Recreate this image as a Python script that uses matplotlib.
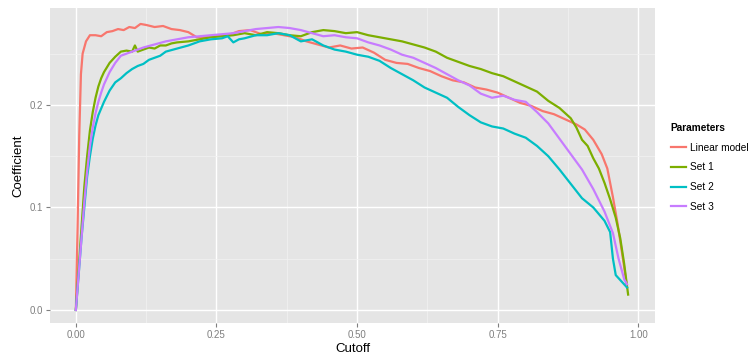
import numpy as np
import matplotlib
matplotlib.use("Agg")
import matplotlib.pyplot as plt

plt.rcParams["font.family"] = ["Liberation Sans", "DejaVu Sans"]

# Linear model
red_x = [0, 0.003, 0.006, 0.009, 0.012, 0.018, 0.025, 0.035, 0.045, 0.055, 0.065, 0.075, 0.085, 0.095,
         0.105, 0.115, 0.125, 0.14, 0.155, 0.17, 0.185, 0.2, 0.215, 0.23, 0.25, 0.27, 0.29, 0.31, 0.33,
         0.35, 0.37, 0.39, 0.41, 0.43, 0.45, 0.47, 0.49, 0.51, 0.53, 0.55, 0.57, 0.59, 0.61, 0.63, 0.65,
         0.67, 0.69, 0.71, 0.73, 0.75, 0.77, 0.79, 0.81, 0.83, 0.85, 0.87, 0.89, 0.905, 0.92, 0.935,
         0.945, 0.955, 0.963, 0.97, 0.976, 0.98]
red_y = [0, 0.08, 0.17, 0.23, 0.25, 0.262, 0.268, 0.268, 0.267, 0.271, 0.272, 0.274, 0.273, 0.276,
         0.275, 0.279, 0.278, 0.276, 0.277, 0.274, 0.273, 0.271, 0.266, 0.266, 0.267, 0.268, 0.272,
         0.273, 0.269, 0.27, 0.268, 0.266, 0.262, 0.259, 0.256, 0.258, 0.255, 0.256, 0.251, 0.244,
         0.241, 0.24, 0.236, 0.233, 0.228, 0.224, 0.222, 0.217, 0.215, 0.212, 0.207, 0.202, 0.199,
         0.194, 0.191, 0.186, 0.181, 0.176, 0.166, 0.152, 0.138, 0.11, 0.085, 0.06, 0.038, 0.022]

# Set 1
green_x = [0, 0.005, 0.01, 0.015, 0.02, 0.025, 0.03, 0.035, 0.04, 0.045, 0.05, 0.06, 0.07, 0.08, 0.09,
           0.1, 0.105, 0.11, 0.12, 0.13, 0.14, 0.15, 0.16, 0.17, 0.18, 0.2, 0.22, 0.24, 0.26, 0.28,
           0.3, 0.32, 0.34, 0.36, 0.38, 0.4, 0.42, 0.44, 0.46, 0.48, 0.5, 0.52, 0.54, 0.56, 0.58, 0.6,
           0.62, 0.64, 0.66, 0.68, 0.7, 0.72, 0.74, 0.76, 0.78, 0.8, 0.82, 0.84, 0.86, 0.88, 0.89,
           0.9, 0.91, 0.92, 0.93, 0.94, 0.95, 0.96, 0.968, 0.975, 0.982]
green_y = [0, 0.04, 0.08, 0.12, 0.15, 0.175, 0.193, 0.207, 0.218, 0.226, 0.232, 0.241, 0.247, 0.252,
           0.253, 0.252, 0.258, 0.252, 0.254, 0.256, 0.255, 0.258, 0.258, 0.26, 0.261, 0.262, 0.264,
           0.266, 0.267, 0.268, 0.27, 0.268, 0.271, 0.27, 0.268, 0.267, 0.271, 0.273, 0.272, 0.27,
           0.271, 0.268, 0.266, 0.264, 0.262, 0.259, 0.256, 0.252, 0.246, 0.242, 0.238, 0.235, 0.231,
           0.228, 0.223, 0.218, 0.213, 0.204, 0.197, 0.187, 0.178, 0.166, 0.16, 0.148, 0.138, 0.124,
           0.108, 0.09, 0.07, 0.045, 0.015]

# Set 2
cyan_x = [0, 0.005, 0.01, 0.015, 0.02, 0.025, 0.03, 0.035, 0.04, 0.05, 0.06, 0.07, 0.08, 0.09, 0.1,
          0.11, 0.12, 0.13, 0.14, 0.15, 0.16, 0.18, 0.2, 0.22, 0.24, 0.26, 0.27, 0.28, 0.29, 0.3,
          0.32, 0.34, 0.36, 0.38, 0.4, 0.42, 0.44, 0.46, 0.48, 0.5, 0.52, 0.54, 0.56, 0.58, 0.6, 0.62,
          0.64, 0.66, 0.68, 0.7, 0.72, 0.74, 0.76, 0.78, 0.8, 0.82, 0.84, 0.86, 0.88, 0.9, 0.92, 0.94,
          0.95, 0.955, 0.96, 0.97, 0.98]
cyan_y = [0, 0.035, 0.07, 0.1, 0.13, 0.15, 0.167, 0.18, 0.19, 0.203, 0.214, 0.222, 0.226, 0.231,
          0.235, 0.238, 0.24, 0.244, 0.246, 0.248, 0.252, 0.255, 0.258, 0.262, 0.264, 0.265, 0.267,
          0.261, 0.264, 0.265, 0.268, 0.268, 0.27, 0.268, 0.262, 0.264, 0.258, 0.254, 0.252, 0.249,
          0.247, 0.243, 0.236, 0.23, 0.224, 0.217, 0.212, 0.207, 0.198, 0.19, 0.183, 0.179, 0.177,
          0.172, 0.168, 0.16, 0.15, 0.137, 0.123, 0.109, 0.1, 0.087, 0.076, 0.05, 0.034, 0.028, 0.022]

# Set 3
purple_x = [0, 0.005, 0.01, 0.015, 0.02, 0.025, 0.03, 0.035, 0.04, 0.045, 0.05, 0.06, 0.07, 0.08,
            0.09, 0.1, 0.12, 0.14, 0.16, 0.18, 0.2, 0.22, 0.24, 0.26, 0.28, 0.3, 0.32, 0.34, 0.36,
            0.38, 0.4, 0.42, 0.44, 0.46, 0.48, 0.5, 0.52, 0.54, 0.56, 0.58, 0.6, 0.62, 0.64, 0.66,
            0.68, 0.7, 0.72, 0.74, 0.76, 0.78, 0.8, 0.82, 0.84, 0.86, 0.88, 0.9, 0.92, 0.94, 0.955,
            0.965, 0.975, 0.98]
purple_y = [0, 0.035, 0.07, 0.105, 0.135, 0.16, 0.178, 0.192, 0.203, 0.212, 0.22, 0.232, 0.241,
            0.248, 0.25, 0.252, 0.256, 0.259, 0.262, 0.264, 0.266, 0.267, 0.268, 0.269, 0.27, 0.272,
            0.274, 0.275, 0.276, 0.275, 0.273, 0.27, 0.267, 0.268, 0.266, 0.265, 0.261, 0.258, 0.254,
            0.249, 0.246, 0.241, 0.236, 0.23, 0.224, 0.219, 0.211, 0.207, 0.209, 0.205, 0.203, 0.193,
            0.182, 0.167, 0.152, 0.137, 0.118, 0.096, 0.075, 0.05, 0.03, 0.025]

labels = ["Linear model", "Set 1", "Set 2", "Set 3"]
colors = ["#F8766D", "#7CAE00", "#00BFC4", "#C77CFF"]
series = [(red_x, red_y), (green_x, green_y), (cyan_x, cyan_y), (purple_x, purple_y)]

xticks = [0.0, 0.25, 0.5, 0.75, 1.0]
yticks = [0.0, 0.1, 0.2]

fig = plt.figure(figsize=(7.53, 3.58), dpi=100)
ax = fig.add_axes([0.0664, 0.0978, 0.8036, 0.880])
ax.set_facecolor("#E5E5E5")

for (xs, ys), c, lab in zip(series, colors, labels):
    ax.plot(xs, ys, color=c, lw=1.6, label=lab, solid_joinstyle="round")

ax.set_xlim(-0.046, 1.030)
ax.set_ylim(-0.0127, 0.2946)
ax.set_xticks(xticks)
ax.set_xticklabels(["0.00", "0.25", "0.50", "0.75", "1.00"])
ax.set_yticks(yticks)
ax.set_yticklabels(["0.0", "0.1", "0.2"])
ax.set_xticks([0.125, 0.375, 0.625, 0.875], minor=True)
ax.set_yticks([0.05, 0.15, 0.25], minor=True)
ax.grid(True, which="major", color="white", lw=1.0)
ax.grid(True, which="minor", color="#F2F2F2", lw=0.5)
ax.set_axisbelow(True)
for s in ax.spines.values():
    s.set_visible(False)
ax.tick_params(which="major", length=3, color="#7F7F7F", labelsize=7, labelcolor="#7F7F7F", pad=2)
ax.tick_params(which="minor", length=0)

ax.set_xlabel("Cutoff", fontsize=9.5, labelpad=2)
ax.set_ylabel("Coefficient", fontsize=9.5, labelpad=4)

leg = fig.legend(loc="upper left", bbox_to_anchor=(0.884, 0.67), frameon=False, title="Parameters",
                 fontsize=7.3, title_fontsize=7.3, handlelength=1.5, handletextpad=0.4,
                 labelspacing=0.95, borderpad=0)
leg.get_title().set_fontweight("bold")
leg._legend_box.align = "left"

fig.savefig("out.png", dpi=100)
